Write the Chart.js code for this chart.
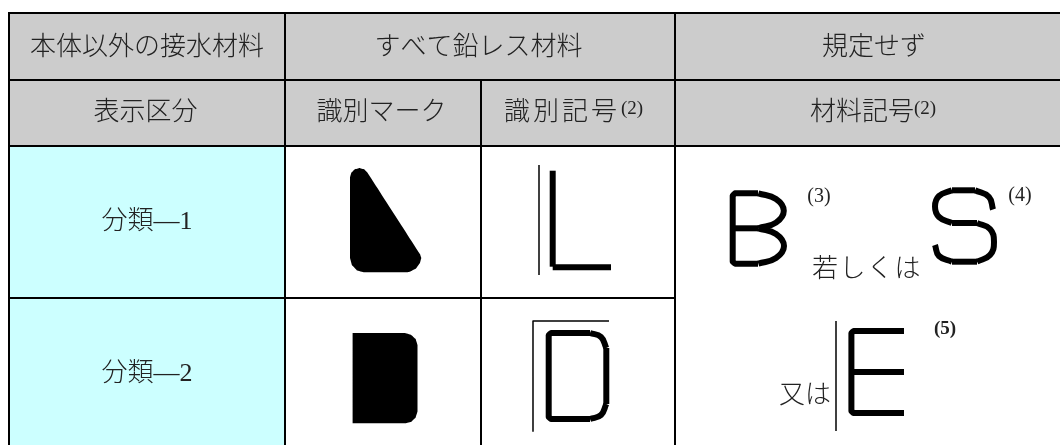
<!DOCTYPE html>
<html>
<head>
<meta charset="utf-8">
<style>
  html, body { margin: 0; padding: 0; background: #fff; }
  canvas { display: block; }
</style>
<script src="https://cdn.jsdelivr.net/npm/chart.js@4/dist/chart.umd.js"></script>
</head>
<body>
<canvas id="chart" width="1060" height="445"></canvas>
<script>
// table text
const topHeaders = ['本体以外の接水材料', 'すべて鉛レス材料', '規定せず']
const subHeaders = ['表示区分', '識別マーク', '識別記号', '材料記号']
const classNames = ['分類—1', '分類—2']
const connectors = ['若しくは', '又は']
const footnotes = ['(2)', '(2)', '(3)', '(4)', '(5)']

// table grid, in axis units
const columnEdges = [9, 285, 481, 675, 1060]
const rowEdges = [13, 80, 146, 298, 445]

// symbol outlines, in axis units
const markOne = [[350,177.5],[351.3,172.8],[354.8,169.3],[359.5,168],[364.2,169.3],[367.7,173],[420,254],[421.3,258],[420,263],[416,268.5],[410,271.7],[407,272.3],[364,272.3],[357,270.4],[352,265.3],[350,258]]
const markTwo = [[352.6,333],[404.7,333],[411,334.7],[415.7,339],[417.5,345],[417.5,411.5],[415.7,417.5],[411.5,421.7],[405.7,423.3],[352.6,423.3]]
const barL = [[539,165],[539,275]]
const barD = [[533,431.7],[533,321],[609,321]]
const barE = [[836,321],[836,431]]

// straight strokes of the symbols
const straightStrokes = [
    [[552.7,170.7],[552.7,266.7]],
    [[552.7,267.3],[611,267.3]],
    [[590,333],[551,333],[548.7,335],[548.7,417],[551,419],[590,419]],
    [[606.3,348],[606.3,404]],
    [[758,193.3],[735,193.3],[732.7,195.5],[732.7,261.5],[735,263.7],[758,263.7]],
    [[732.7,228.3],[758,228.3]],
    [[975,190.3],[952,190.3]],
    [[952,223],[977,223]],
    [[977,261.7],[952,261.7]],
    [[904,331],[853.5,331],[851.4,333],[851.4,411],[853.5,413],[904,413]],
    [[851.4,372],[904,372]]
]

// curved strokes of the symbols
const curvedStrokes = [
    [[590,333],[601,337],[606.3,348]],
    [[606.3,404],[601,415],[590,419]],
    [[758.3,193.3],[776,199],[783.8,210.8],[776,222.6],[758.3,228.3]],
    [[758.3,228.3],[776,234],[784,246],[776,258],[758.3,263.7]],
    [[993,209.5],[989,197],[975,190.3]],
    [[952,190.3],[939,196],[935,206.5],[939,217],[952,223]],
    [[977,223],[990,229],[994,242],[990,255],[977,261.7]],
    [[952,261.7],[939,256],[935,245]]
]

const toPoints = pts => pts.map(p => ({x: p[0], y: p[1]}))

// tiny tension keeps Chart.js off its fast path, which collapses close points
const noFastPath = 0.0001

function cell(x1, x2, y1, y2, color) {
    return {
        data: toPoints([[x1,y1],[x2,y1],[x2,y2],[x1,y2]]),
        showLine: true, pointRadius: 0, borderWidth: 0, tension: noFastPath,
        backgroundColor: color, fill: 'shape', order: 3
    }
}

function rule(pts, width, tension) {
    return {
        data: toPoints(pts),
        showLine: true, pointRadius: 0, borderColor: '#000', borderWidth: width, tension: tension || noFastPath,
        borderCapStyle: 'butt', borderJoinStyle: 'round', fill: false, order: 2
    }
}

function solid(pts) {
    return {
        data: toPoints(pts),
        showLine: true, pointRadius: 0, borderWidth: 0, tension: noFastPath,
        backgroundColor: '#000', fill: 'shape', order: 1
    }
}

const [c0, c1, c2, c3, c4] = columnEdges
const [r0, r1, r2, r3, r4] = rowEdges

const datasets = [
    cell(c0, c4, r0, r2, '#cccccc'),
    cell(c0, c1, r2, r4, '#ccffff'),
    rule([[c0 - 1, r0], [c4, r0]], 2),
    rule([[c0 - 1, r1], [c4, r1]], 2),
    rule([[c0 - 1, r2], [c4, r2]], 2),
    rule([[c0 - 1, r3], [c3, r3]], 2),
    rule([[c0, r0], [c0, r4]], 2),
    rule([[c1, r0], [c1, r4]], 2),
    rule([[c2, r1], [c2, r4]], 2),
    rule([[c3, r0], [c3, r4]], 2),
    solid(markOne),
    solid(markTwo),
    rule(barL, 1.5), rule(barD, 1.5), rule(barE, 1.5),
    ...straightStrokes.map(s => rule(s, 6)),
    ...curvedStrokes.map(s => rule(s, 6, 0.45))
]

const bodyFont = '300 26px "Liberation Serif", "Noto Sans CJK JP"'
const noteFont = '20px "Liberation Serif"'
const smallNote = '19px "Liberation Serif"'

const labels = [
    {text: topHeaders[0], x: 147, y: 48, font: bodyFont},
    {text: topHeaders[1], x: 478.5, y: 48, font: bodyFont},
    {text: topHeaders[2], x: 874, y: 48, font: bodyFont},
    {text: subHeaders[0], x: 145.5, y: 113, font: bodyFont},
    {text: subHeaders[1], x: 381.5, y: 113, font: bodyFont},
    {text: subHeaders[2], x: 562, y: 113, font: bodyFont, spacing: '3px'},
    {text: subHeaders[3], x: 862, y: 113, font: bodyFont},
    {text: footnotes[0], x: 632, y: 109, font: smallNote},
    {text: footnotes[1], x: 925, y: 109, font: smallNote},
    {text: classNames[0], x: 147, y: 222, font: bodyFont},
    {text: classNames[1], x: 147, y: 374, font: bodyFont},
    {text: connectors[0], x: 867, y: 270, font: bodyFont, spacing: '1.5px'},
    {text: connectors[1], x: 805, y: 396, font: bodyFont},
    {text: footnotes[2], x: 819, y: 197, font: noteFont},
    {text: footnotes[3], x: 1020, y: 196, font: noteFont},
    {text: footnotes[4], x: 945, y: 329, font: 'bold 19px "Liberation Serif"'}
]

const tableText = {
    id: 'tableText',
    afterDatasetsDraw(chart) {
        const {ctx, scales} = chart
        ctx.save()
        ctx.fillStyle = '#222'
        ctx.textAlign = 'center'
        ctx.textBaseline = 'middle'
        labels.forEach(l => {
            ctx.font = l.font
            ctx.letterSpacing = l.spacing || '0px'
            ctx.fillText(l.text, scales.x.getPixelForValue(l.x), scales.y.getPixelForValue(l.y))
        })
        ctx.restore()
    }
}

new Chart(document.getElementById('chart'), {
    type: 'scatter',
    data: {datasets},
    plugins: [tableText],
    options: {
        responsive: false,
        animation: false,
        layout: {padding: 0},
        plugins: {legend: {display: false}, tooltip: {enabled: false}},
        scales: {
            x: {type: 'linear', min: 0, max: 1060, display: false},
            y: {type: 'linear', min: 0, max: 445, reverse: true, display: false}
        }
    }
})
</script>
</body>
</html>
